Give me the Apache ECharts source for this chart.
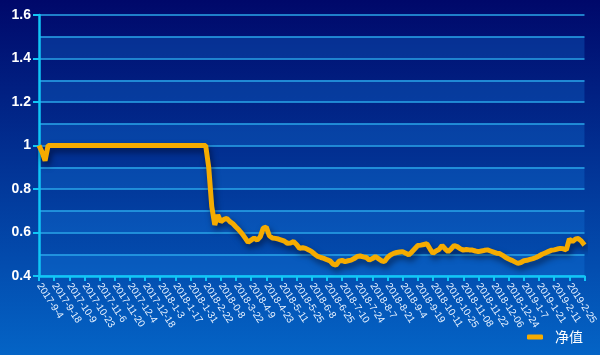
<!DOCTYPE html>
<html>
<head>
<meta charset="utf-8">
<script src="https://cdn.jsdelivr.net/npm/echarts@6/dist/echarts.min.js"></script>
<style>
html,body{margin:0;padding:0;}
#chart{width:600px;height:355px;}
</style>
</head>
<body>
<div id="chart"></div>
<script>
// Tick labels on the date axis (one every 5 points of the series)
const tickDates = ['2017-9-4','2017-9-18','2017-10-9','2017-10-23','2017-11-6','2017-11-20','2017-12-4','2017-12-18',
  '2018-1-3','2018-1-17','2018-1-31','2018-2-22','2018-0-8','2018-3-22','2018-4-9','2018-4-23','2018-5-11','2018-5-25',
  '2018-6-8','2018-6-25','2018-7-10','2018-7-24','2018-8-7','2018-8-21','2018-9-4','2018-9-19','2018-10-11','2018-10-25',
  '2018-11-08','2018-11-22','2018-12-06','2018-12-24','2019-1-7','2019-1-21','2019-2-11','2019-2-25'];
const pointsPerTick = 5;
const seriesName = '净值';
// Net value
const netValue = [
  1.00,0.97,0.93,1.00,1.00,1.00,1.00,1.00,1.00,1.00,
  1.00,1.00,1.00,1.00,1.00,1.00,1.00,1.00,1.00,1.00,
  1.00,1.00,1.00,1.00,1.00,1.00,1.00,1.00,1.00,1.00,
  1.00,1.00,1.00,1.00,1.00,1.00,1.00,1.00,1.00,1.00,
  1.00,1.00,1.00,1.00,1.00,1.00,1.00,1.00,1.00,1.00,
  1.00,1.00,1.00,1.00,1.00,1.00,0.90,0.72,0.635,0.68,
  0.65,0.66,0.665,0.65,0.64,0.625,0.611,0.595,0.575,0.555,
  0.565,0.575,0.565,0.58,0.62,0.625,0.585,0.575,0.573,0.57,
  0.565,0.56,0.55,0.552,0.558,0.545,0.527,0.53,0.527,0.52,
  0.512,0.50,0.49,0.485,0.481,0.475,0.47,0.455,0.45,0.468,
  0.472,0.466,0.47,0.473,0.48,0.49,0.492,0.488,0.485,0.473,
  0.48,0.489,0.48,0.47,0.466,0.485,0.497,0.504,0.508,0.51,
  0.512,0.505,0.497,0.51,0.525,0.54,0.542,0.545,0.548,0.525,
  0.504,0.515,0.522,0.54,0.525,0.512,0.525,0.54,0.535,0.525,
  0.519,0.522,0.52,0.519,0.515,0.512,0.515,0.518,0.52,0.515,
  0.51,0.505,0.503,0.495,0.485,0.478,0.472,0.465,0.458,0.462,
  0.47,0.472,0.476,0.48,0.485,0.492,0.50,0.506,0.512,0.518,
  0.52,0.524,0.527,0.525,0.52,0.57,0.558,0.57,0.572,0.56,
  0.542
];
const yTicks = [0.4, 0.6, 0.8, 1.0, 1.2, 1.4, 1.6];

const categories = netValue.map((v, i) =>
  (i % pointsPerTick === 0 && tickDates[i / pointsPerTick] !== undefined) ? tickDates[i / pointsPerTick] : '');

const chart = echarts.init(document.getElementById('chart'));
chart.setOption({
  animation: false,
  backgroundColor: {
    type: 'linear', x: 0, y: 0, x2: 0, y2: 1,
    colorStops: [{offset: 0, color: '#00086a'}, {offset: 1, color: '#0464c6'}]
  },
  grid: {left: 39, right: 13, top: 15, bottom: 79, containLabel: false},
  legend: {
    right: 12, bottom: 6,
    icon: 'roundRect', itemWidth: 16, itemHeight: 5,
    textStyle: {color: '#ffffff', fontSize: 14, padding: [0, 0, 0, 7], fontFamily: 'Noto Sans CJK SC'},
    data: [seriesName]
  },
  xAxis: {
    type: 'category',
    data: categories,
    boundaryGap: false,
    axisLine: {lineStyle: {color: '#11c6f6', width: 2.5}},
    axisTick: {interval: pointsPerTick - 1, length: 5, lineStyle: {color: '#11c6f6', width: 2}},
    axisLabel: {interval: pointsPerTick - 1, rotate: -57, color: '#e8f2ff', fontSize: 10, margin: 8,
      fontFamily: 'Liberation Sans'},
    splitLine: {show: false}
  },
  yAxis: [{
    type: 'value', min: yTicks[0], max: yTicks[yTicks.length - 1], interval: 0.2,
    axisLine: {show: true, lineStyle: {color: '#11c6f6', width: 2.5}},
    axisTick: {show: true, length: 6, lineStyle: {color: '#11c6f6', width: 2}},
    axisLabel: {color: '#ffffff', fontSize: 14, fontWeight: 'bold', margin: 8, fontFamily: 'Liberation Sans',
      formatter: v => String(Math.round(v * 10) / 10)},
    splitLine: {show: false}
  }, {
    type: 'value', min: yTicks[0], max: yTicks[yTicks.length - 1], interval: 0.1, position: 'left',
    axisLine: {show: false}, axisTick: {show: false}, axisLabel: {show: false},
    splitLine: {show: true, lineStyle: {color: '#2aa6ea', width: 1.5}},
    splitArea: {show: true, areaStyle: {color: ['rgba(20,130,230,0.28)', 'rgba(0,0,0,0)']}}
  }],
  series: [{
    name: seriesName,
    type: 'line',
    data: netValue,
    yAxisIndex: 0,
    showSymbol: false,
    symbol: 'none',
    itemStyle: {color: '#f5ab00'},
    lineStyle: {color: '#f5ab00', width: 5, shadowColor: 'rgba(0,0,20,0.55)', shadowBlur: 6, shadowOffsetX: 2, shadowOffsetY: 4},
    z: 5
  }]
});
</script>
</body>
</html>
